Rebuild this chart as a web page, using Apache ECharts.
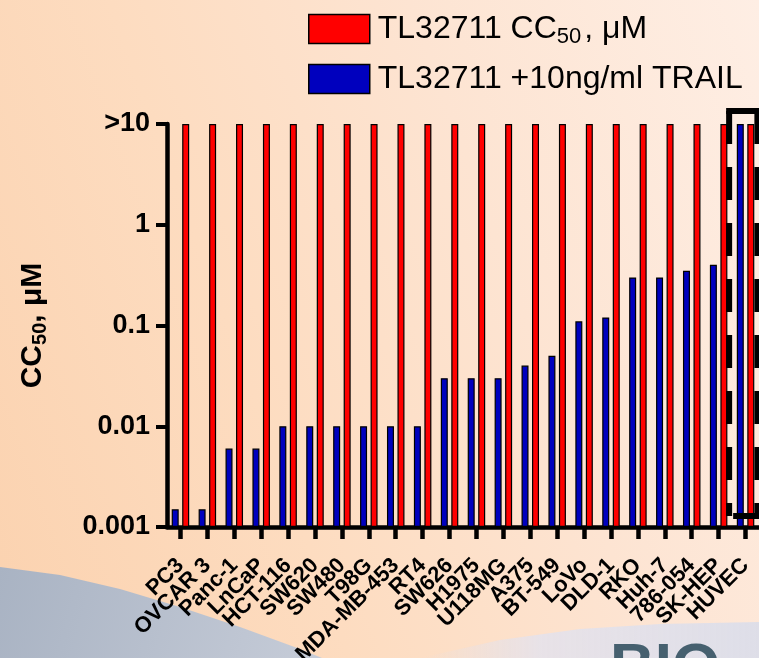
<!DOCTYPE html>
<html>
<head>
<meta charset="utf-8">
<script src="https://cdn.jsdelivr.net/npm/echarts@6/dist/echarts.min.js"></script>
<style>
  html, body { margin: 0; padding: 0; }
  body { width: 759px; height: 658px; overflow: hidden;
    background: linear-gradient(70deg, #FBD2AF 0%, #FDDCC0 35%, #FDE4D2 65%, #FEEEE4 100%); }
  #chart { width: 759px; height: 658px; }
</style>
</head>
<body>
<div id="chart"></div>
<script>
const categories = ['PC3','OVCAR 3','Panc-1','LnCaP','HCT-116','SW620','SW480','T98G','MDA-MB-453','RT4',
  'SW626','H1975','U118MG','A375','BT-549','LoVo','DLD-1','RKO','Huh-7','786-054','SK-HEP','HUVEC'];
const cc50Values = [10,10,10,10,10,10,10,10,10,10,10,10,10,10,10,10,10,10,10,10,10,10];
const trailValues = [0.0015,0.0015,0.006,0.006,0.01,0.01,0.01,0.01,0.01,0.01,
  0.03,0.03,0.03,0.04,0.05,0.11,0.12,0.30,0.30,0.35,0.40,10];
const yTickValues = [0.001, 0.01, 0.1, 1, 10];
const yTickLabels = ['0.001', '0.01', '0.1', '1', '>10'];

const FONT = '"Liberation Sans", Arial, sans-serif';
const nameRed = 'TL32711 CC50, \u03BCM';
const nameBlue = 'TL32711 +10ng/ml TRAIL';

const chart = echarts.init(document.getElementById('chart'), null, { renderer: 'canvas' });

const option = {
  backgroundColor: 'transparent',
  animation: false,
  textStyle: { fontFamily: FONT },
  legend: {
    orient: 'vertical',
    left: 308,
    top: 10,
    padding: 0,
    itemWidth: 61,
    itemHeight: 29,
    itemGap: 15,
    icon: 'rect',
    data: [nameRed, nameBlue],
    formatter: function (n) {
      if (n === nameRed) return '{a|TL32711 CC}{sub|50}{a|, \u03BCM}';
      return '{a|' + n + '}';
    },
    textStyle: {
      color: '#000',
      fontFamily: FONT,
      rich: {
        a: { fontSize: 32, lineHeight: 35, color: '#000', fontFamily: FONT, padding: [0, 0, 0, 3] },
        sub: { fontSize: 22, lineHeight: 22, color: '#000', fontFamily: FONT, padding: [16, 0, 0, 0] }
      }
    },
    itemStyle: { borderColor: '#000', borderWidth: 1.5 }
  },
  grid: { left: 167, right: 0, top: 124, bottom: 131, containLabel: false, outerBoundsMode: 'none' },
  xAxis: {
    type: 'category',
    data: categories,
    axisLine: { lineStyle: { color: '#000', width: 4.5 } },
    axisTick: { show: true, alignWithLabel: true, length: 12, lineStyle: { color: '#000', width: 4.5 } },
    axisLabel: {
      interval: 0, rotate: 45, margin: 35,
      color: '#000', fontWeight: 'bold', fontSize: 22, fontFamily: FONT
    },
    splitLine: { show: false }
  },
  yAxis: {
    type: 'log',
    logBase: 10,
    min: 0.001,
    max: 10,
    startValue: 0.001,
    name: '{a|CC}{sub|50}{a|, \u03BCM}',
    nameLocation: 'middle',
    nameRotate: 90,
    nameGap: 118,
    nameTextStyle: {
      rich: {
        a: { fontSize: 30, fontWeight: 'bold', color: '#000', fontFamily: FONT, lineHeight: 32 },
        sub: { fontSize: 20, fontWeight: 'bold', color: '#000', fontFamily: FONT, lineHeight: 20, padding: [14, 0, 0, 0] }
      }
    },
    axisLine: { show: true, lineStyle: { color: '#000', width: 4.5 } },
    axisTick: { show: true, length: 11, lineStyle: { color: '#000', width: 4 } },
    axisLabel: {
      margin: 17,
      color: '#000', fontWeight: 'bold', fontSize: 27, fontFamily: FONT,
      formatter: function (v) {
        for (let i = 0; i < yTickValues.length; i++) {
          if (Math.abs(Math.log10(v) - Math.log10(yTickValues[i])) < 1e-6) return yTickLabels[i];
        }
        return '';
      }
    },
    splitLine: { show: false },
    minorTick: { show: false }
  },
  series: [
    {
      name: nameBlue, type: 'bar', data: trailValues,
      barWidth: 7, barGap: '50%',
      itemStyle: { color: '#0000BE', borderColor: '#000', borderWidth: 1.2 }
    },
    {
      name: nameRed, type: 'bar', data: cc50Values,
      barWidth: 7, barGap: '50%',
      itemStyle: { color: '#FF0000', borderColor: '#000', borderWidth: 1.2 }
    }
  ]
};
chart.setOption(option);

function addDecor() {
  const last = categories[categories.length - 1];
  const prev = categories[categories.length - 2];
  const pTop = chart.convertToPixel({ xAxisIndex: 0, yAxisIndex: 0 }, [last, 10]);
  const pBot = chart.convertToPixel({ xAxisIndex: 0, yAxisIndex: 0 }, [last, 0.001]);
  const pPrev = chart.convertToPixel({ xAxisIndex: 0, yAxisIndex: 0 }, [prev, 10]);
  const bw = pTop[0] - pPrev[0];
  const x1 = pTop[0] - 0.61 * bw, x2 = pTop[0] + 0.44 * bw;
  const y1 = pTop[1] - 13, y2 = pBot[1] - 11;
  const st = { stroke: '#000', lineWidth: 6, lineDash: [33, 23] };
  const greyGrad = { type: 'linear', x: 0, y: 0, x2: 1, y2: 1, colorStops: [
    { offset: 0, color: '#A9B3C3' }, { offset: 1, color: '#C6CCD8' }] };
  const lavGrad = { type: 'linear', x: 0, y: 0, x2: 1, y2: 0, colorStops: [
    { offset: 0, color: 'rgba(228,226,236,0)' }, { offset: 0.35, color: 'rgba(228,226,236,0.85)' },
    { offset: 1, color: 'rgba(222,222,232,1)' }] };
  chart.setOption({
    graphic: [
      { type: 'polygon', z: -10, silent: true,
        shape: { points: [[0,567],[60,575],[120,589],[180,607],[240,627],[300,649],[322,658],[0,658]] },
        style: { fill: greyGrad } },
      { type: 'polygon', z: -10, silent: true,
        shape: { points: [[420,658],[500,640],[580,629],[660,624],[759,622],[759,658]] },
        style: { fill: lavGrad } },
      { type: 'text', z: -9, silent: true, left: 610, top: 638,
        style: { text: 'BIO', fontSize: 62, fontWeight: 'bold', fill: '#46606F', fontFamily: FONT } },
      { type: 'line', z: 50, silent: true, shape: { x1: x1 - 3, y1: y1, x2: 759, y2: y1 },
        style: { stroke: '#000', lineWidth: 6 } },
      { type: 'line', z: 50, silent: true, shape: { x1: x1, y1: y1, x2: x1, y2: y2 }, style: st },
      { type: 'line', z: 50, silent: true, shape: { x1: x2, y1: y1, x2: x2, y2: y2 }, style: st },
      { type: 'line', z: 50, silent: true, shape: { x1: x1 + 4, y1: y2, x2: 759, y2: y2 },
        style: { stroke: '#000', lineWidth: 6 } }
    ]
  });
}
addDecor();
</script>
</body>
</html>
